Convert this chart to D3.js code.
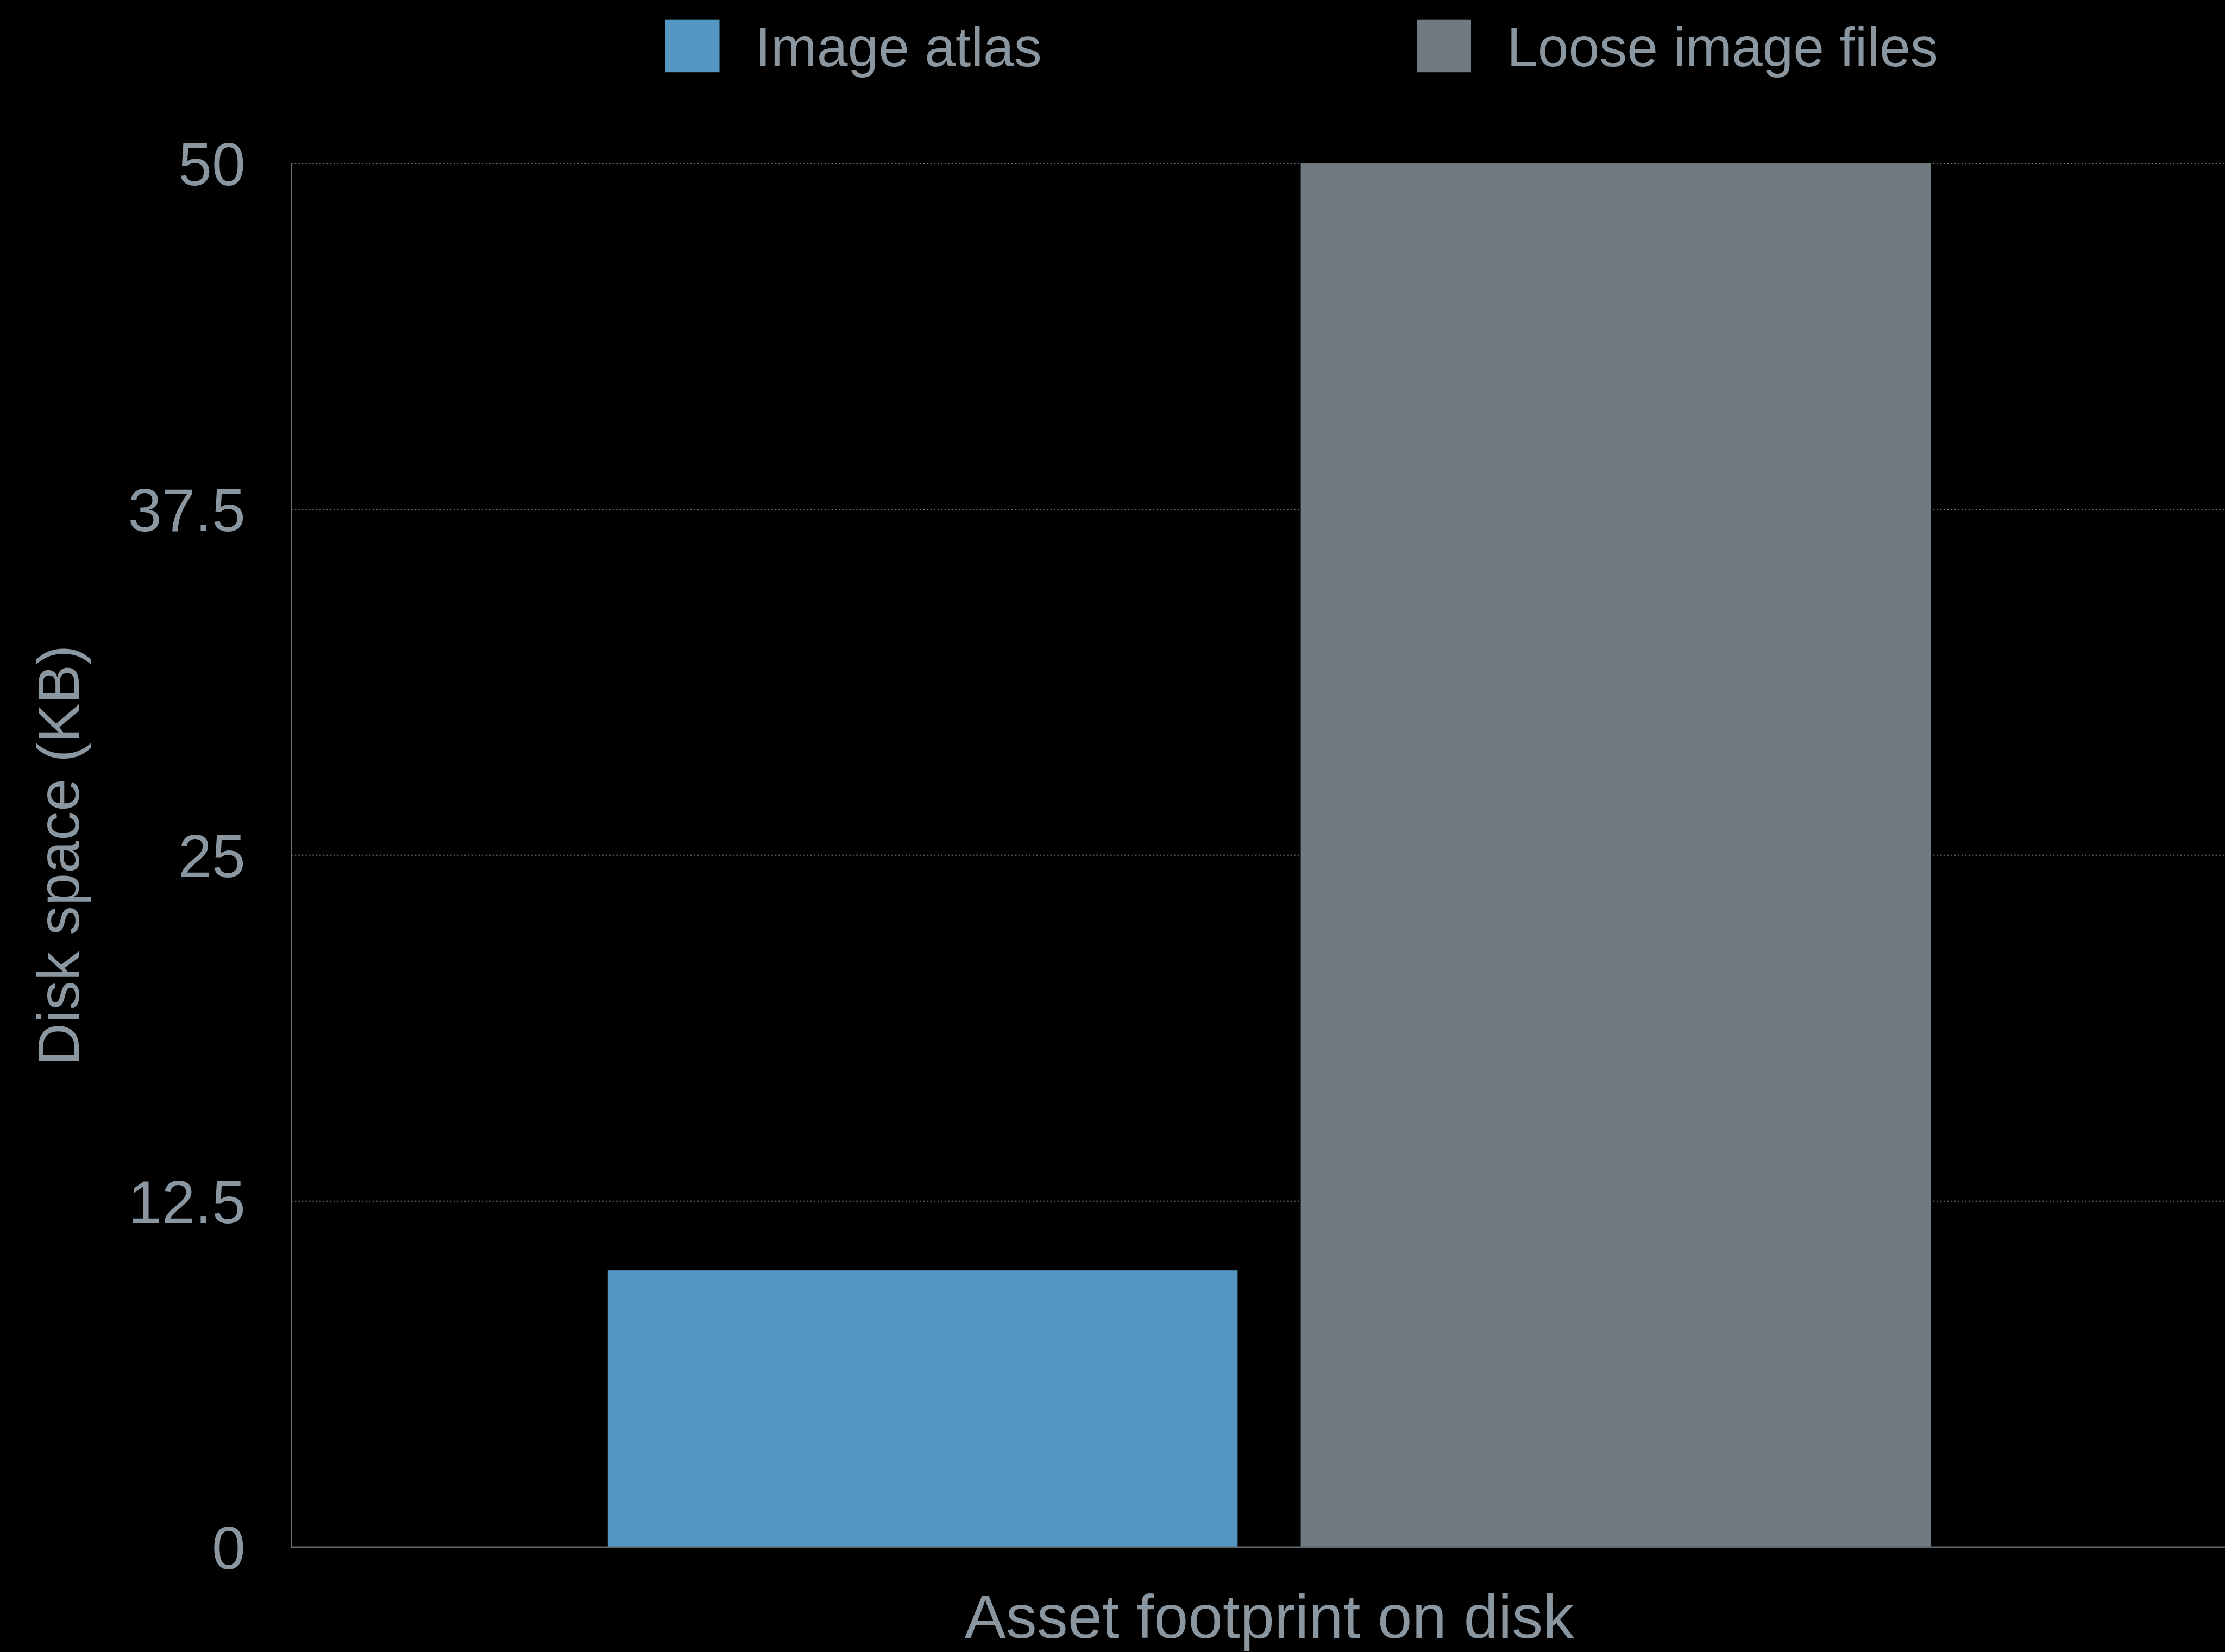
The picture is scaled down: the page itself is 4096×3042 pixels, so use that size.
<!DOCTYPE html>
<html>
<head>
<meta charset="utf-8">
<script src="https://cdn.jsdelivr.net/npm/d3@7"></script>
<style>
  html, body { margin: 0; padding: 0; background: #000; overflow: hidden; }
  svg { display: block; }
</style>
</head>
<body>
<script>
// ---- data ----
const categories = ["Asset footprint on disk"];
const series = ["Image atlas", "Loose image files"];
const values = [10, 50];          // KB, per series, for the single category
const yTicks = [0, 12.5, 25, 37.5, 50];
const yTickLabels = ["0", "12.5", "25", "37.5", "50"];
const seriesColors = ["#5497c2", "#6f7a80"];
const yTitle = "Disk space (KB)";

// ---- layout ----
const W = 4096, H = 3042;
const plotLeft = 536.3, plotRight = 4136.6, plotTop = 301.0, plotBottom = 2848.7;
const textColor = "#8a96a0";
const font = "'Liberation Sans', Arial, sans-serif";

const svg = d3.select("body").append("svg")
  .attr("width", W).attr("height", H)
  .style("background", "#000");

const y = d3.scaleLinear().domain([0, 50]).range([plotBottom, plotTop]);
const x0 = d3.scaleBand().domain(categories).range([plotLeft, plotRight])
  .paddingInner(0).paddingOuter(0.2392);
const x1 = d3.scaleBand().domain(series).range([0, x0.bandwidth()])
  .paddingInner(0.0911).paddingOuter(0);
const color = d3.scaleOrdinal().domain(series).range(seriesColors);

// gridlines (dotted), excluding baseline
svg.append("g").selectAll("line")
  .data(yTicks.filter(d => d !== 0))
  .join("line")
  .attr("x1", plotLeft).attr("x2", W)
  .attr("y1", d => y(d)).attr("y2", d => y(d))
  .attr("stroke", "#6d777d")
  .attr("stroke-width", 2)
  .attr("stroke-dasharray", "2.4,4.1");

// bars
const rows = categories.map(c => ({ cat: c, vals: series.map((s, i) => ({ s, v: values[i] })) }));
svg.append("g").selectAll("g")
  .data(rows).join("g")
  .attr("transform", d => `translate(${x0(d.cat)},0)`)
  .selectAll("rect")
  .data(d => d.vals).join("rect")
  .attr("x", d => x1(d.s))
  .attr("width", x1.bandwidth())
  .attr("y", d => y(d.v))
  .attr("height", d => y(0) - y(d.v))
  .attr("fill", d => color(d.s));

// y axis line
svg.append("line")
  .attr("x1", plotLeft).attr("x2", plotLeft)
  .attr("y1", y(50)).attr("y2", y(0))
  .attr("stroke", "#667076").attr("stroke-width", 2);

// baseline
svg.append("line")
  .attr("x1", plotLeft - 1).attr("x2", W)
  .attr("y1", y(0)).attr("y2", y(0))
  .attr("stroke", "#5f686e").attr("stroke-width", 2.4);

// y tick labels
const yAxis = d3.axisLeft(y).tickValues(yTicks)
  .tickFormat((d, i) => yTickLabels[i])
  .tickSize(0).tickPadding(84.5);
const ga = svg.append("g").attr("transform", `translate(${plotLeft},0)`).call(yAxis);
ga.select(".domain").remove();
ga.selectAll("text")
  .attr("fill", textColor)
  .attr("dy", "0.36em")
  .style("font-family", font)
  .style("font-size", "111px");

// y title
svg.append("text")
  .attr("transform", `translate(144.6,${(plotTop + plotBottom) / 2}) rotate(-90)`)
  .attr("text-anchor", "middle")
  .attr("fill", textColor)
  .style("font-family", font)
  .style("font-size", "108px")
  .text(yTitle);

// x category label
svg.append("g").selectAll("text")
  .data(categories).join("text")
  .attr("x", d => x0(d) + x0.bandwidth() / 2)
  .attr("y", 3016)
  .attr("text-anchor", "middle")
  .attr("fill", textColor)
  .style("font-family", font)
  .style("font-size", "114px")
  .text(d => d);

// legend
const legendX = [1224.5, 2608];
const leg = svg.append("g").selectAll("g")
  .data(series).join("g")
  .attr("transform", (d, i) => `translate(${legendX[i]},0)`);
leg.append("rect")
  .attr("x", 0).attr("y", 35.7)
  .attr("width", 100).attr("height", 97.5)
  .attr("fill", d => color(d));
leg.append("text")
  .attr("x", 166).attr("y", 122.4)
  .attr("fill", textColor)
  .style("font-family", font)
  .style("font-size", "102px")
  .text(d => d);
</script>
</body>
</html>
